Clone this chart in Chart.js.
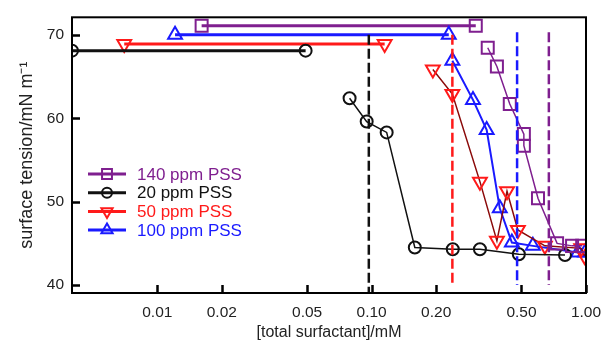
<!DOCTYPE html>
<html>
<head>
<meta charset="utf-8">
<script src="https://cdn.jsdelivr.net/npm/chart.js@4.4.1/dist/chart.umd.min.js"></script>
<style>
    html, body { margin: 0; padding: 0; background: #fff; }
</style>
</head>
<body>
<canvas id="tensionChart" width="601" height="341"></canvas>
<script>
// Axis ticks
const xTickValues = [0.01, 0.02, 0.05, 0.1, 0.2, 0.5, 1];
const xTickLabels = ['0.01', '0.02', '0.05', '0.10', '0.20', '0.50', '1.00'];
const yTickValues = [40, 50, 60, 70];

// Legend labels (in legend order)
const seriesLabels = ['140 ppm PSS', '20 ppm PSS', '50 ppm PSS', '100 ppm PSS'];

// 140 ppm PSS
const pss140PlateauX = [0.0161, 0.306];
const pss140PlateauY = [71.1, 71.1];
const pss140X = [0.348, 0.384, 0.441, 0.513, 0.513, 0.597, 0.733, 0.861, 0.96];
const pss140Y = [68.45, 66.2, 61.7, 58.1, 56.7, 50.4, 45.0, 44.7, 44.7];

// 20 ppm PSS
const pss20PlateauX = [0.004, 0.0492];
const pss20PlateauY = [68.1, 68.1];
const pss20X = [0.0789, 0.0948, 0.1175, 0.159, 0.239, 0.32, 0.486, 0.798];
const pss20Y = [62.4, 59.6, 58.3, 44.5, 44.3, 44.3, 43.7, 43.6];

// 50 ppm PSS
const pss50PlateauX = [0.00701, 0.115];
const pss50PlateauY = [68.9, 68.9];
const pss50X = [0.193, 0.238, 0.32, 0.384, 0.428, 0.481, 0.643, 0.95, 0.985];
const pss50Y = [65.85, 62.9, 52.4, 45.3, 51.25, 46.6, 44.7, 44.4, 43.5];

// 100 ppm PSS
const pss100PlateauX = [0.0121, 0.229];
const pss100PlateauY = [70.0, 70.0];
const pss100X = [0.238, 0.297, 0.344, 0.396, 0.451, 0.565, 0.918, 0.99];
const pss100Y = [66.9, 62.2, 58.6, 49.2, 45.1, 44.7, 43.9, 43.9];

// Vertical dashed markers (black, red, blue, purple)
const cmcX = [0.097, 0.238, 0.477, 0.671];
const cmcTop = [70.0, 70.0, 70.3, 70.3];
const cmcBottom = [39.1, 40.0, 40.0, 40.0];

const purple = '#7f1f8f';
const red = '#ff1a1a';
const darkRed = '#8b0a0a';
const blue = '#1a1aff';
const black = '#111111';
const fontFamily = '"Liberation Sans", Arial, sans-serif';

function pts(xs, ys) {
    return xs.map((x, i) => ({ x: x, y: ys[i] }));
}

function markerSet(label, xs, ys, lineColor, markColor, style, radius, width, extra) {
    return Object.assign({
        label: label,
        data: pts(xs, ys),
        borderColor: lineColor,
        borderWidth: width,
        pointStyle: style,
        pointRadius: radius,
        pointBorderColor: markColor,
        pointBackgroundColor: 'rgba(0,0,0,0)',
        pointBorderWidth: 2,
        tension: 0,
        fill: false
    }, extra || {});
}

function dashSet(x, top, bottom, color) {
    return {
        label: '',
        data: [{ x: x, y: top }, { x: x, y: bottom }],
        borderColor: color,
        borderWidth: 2.5,
        borderDash: [10, 4],
        pointRadius: 0,
        fill: false
    };
}

const dashColors = [black, red, blue, purple];
const datasets = cmcX.map((x, i) => dashSet(x, cmcTop[i], cmcBottom[i], dashColors[i]));

// plateaus
datasets.push(markerSet('', pss20PlateauX, pss20PlateauY, black, black, 'circle', 6, 3));
datasets.push(markerSet('', pss50PlateauX, pss50PlateauY, red, red, 'triangle', 8, 3, { pointRotation: 180 }));
datasets.push(markerSet('', pss100PlateauX, pss100PlateauY, blue, blue, 'triangle', 8, 3));
datasets.push(markerSet('', pss140PlateauX, pss140PlateauY, purple, purple, 'rect', 8.5, 3));

// descending curves (these carry the legend)
const legendSets = [
    markerSet(seriesLabels[0], pss140X, pss140Y, purple, purple, 'rect', 8.5, 1.5),
    markerSet(seriesLabels[1], pss20X, pss20Y, black, black, 'circle', 6, 1.5),
    markerSet(seriesLabels[2], pss50X, pss50Y, darkRed, red, 'triangle', 8, 1.5, { pointRotation: 180 }),
    markerSet(seriesLabels[3], pss100X, pss100Y, blue, blue, 'triangle', 8, 2)
];
legendSets.forEach(ds => datasets.push(ds));

const legendTextColors = [purple, black, red, blue];
const legendLineColors = [purple, black, red, blue];

// Box, inward ticks and the legend are painted by hand
const framePlugin = {
    id: 'frame',
    afterDatasetsDraw(chart) {
        const ctx = chart.ctx;
        const a = chart.chartArea;
        const xs = chart.scales.x, ys = chart.scales.y;
        ctx.save();
        ctx.strokeStyle = '#000';
        ctx.lineWidth = 2;
        ctx.strokeRect(a.left, a.top, a.right - a.left, a.bottom - a.top);
        ctx.lineWidth = 2.5;
        ctx.beginPath();
        xTickValues.forEach(v => {
            const px = Math.round(xs.getPixelForValue(v)) + 0.5;
            ctx.moveTo(px, a.bottom);
            ctx.lineTo(px, a.bottom - 8);
        });
        yTickValues.forEach(v => {
            const py = Math.round(ys.getPixelForValue(v)) + 0.5;
            ctx.moveTo(a.left, py);
            ctx.lineTo(a.left + 8, py);
        });
        ctx.stroke();

        // legend
        const lx = 88, ly = 174, rowH = 18.7;
        legendSets.forEach((ds, i) => {
            const y = ly + i * rowH;
            ctx.strokeStyle = legendLineColors[i];
            ctx.lineWidth = 3;
            ctx.beginPath();
            ctx.moveTo(lx, y);
            ctx.lineTo(lx + 38, y);
            ctx.stroke();
            ctx.lineWidth = 2;
            ctx.fillStyle = 'rgba(0,0,0,0)';
            ctx.strokeStyle = ds.pointBorderColor;
            Chart.helpers.drawPoint(ctx, {
                pointStyle: ds.pointStyle,
                rotation: ds.pointRotation || 0,
                radius: ds.pointStyle === 'rect' ? 7 : (ds.pointStyle === 'circle' ? 5 : 6.5),
                borderWidth: 2
            }, lx + 19, y);
            ctx.fillStyle = legendTextColors[i];
            ctx.font = '17px ' + fontFamily;
            ctx.textBaseline = 'middle';
            ctx.textAlign = 'left';
            ctx.fillText(ds.label, lx + 49, y + 1);
        });
        ctx.restore();
    }
};

new Chart(document.getElementById('tensionChart').getContext('2d'), {
    type: 'line',
    data: { datasets: datasets },
    options: {
        responsive: false,
        animation: false,
        layout: { padding: { top: 14, right: 0, left: 6, bottom: 0 } },
        plugins: {
            legend: { display: false },
            tooltip: { enabled: false }
        },
        scales: {
            x: {
                type: 'logarithmic',
                min: 0.004,
                max: 1.0,
                grid: { display: false, drawTicks: false },
                border: { display: false },
                afterBuildTicks: function(scale) {
                    scale.ticks = xTickValues.map(v => ({ value: v }));
                },
                afterFit: function(scale) {
                    scale.height = 48;
                    scale.paddingRight = 15;
                },
                ticks: {
                    autoSkip: false,
                    maxRotation: 0,
                    padding: 10,
                    color: '#222',
                    font: { family: fontFamily, size: 15.5 },
                    callback: function(value) {
                        const i = xTickValues.indexOf(value);
                        return i >= 0 ? xTickLabels[i] : '';
                    }
                },
                title: {
                    display: true,
                    text: '[total surfactant]/mM',
                    color: '#222',
                    font: { family: fontFamily, size: 16, lineHeight: 1 },
                    padding: { top: 0, bottom: 0 }
                }
            },
            y: {
                type: 'linear',
                min: 39.05,
                max: 72.1,
                grid: { display: false, drawTicks: false },
                border: { display: false },
                afterBuildTicks: function(scale) {
                    scale.ticks = yTickValues.map(v => ({ value: v }));
                },
                afterFit: function(scale) { scale.width = 66; },
                ticks: {
                    padding: 8,
                    color: '#222',
                    font: { family: fontFamily, size: 15.5 }
                },
                title: {
                    display: true,
                    text: 'surface tension/mN m\u207B\u00B9',
                    color: '#222',
                    font: { family: fontFamily, size: 18 },
                    padding: { top: 10, bottom: 0 }
                }
            }
        }
    },
    plugins: [framePlugin]
});
</script>
</body>
</html>
